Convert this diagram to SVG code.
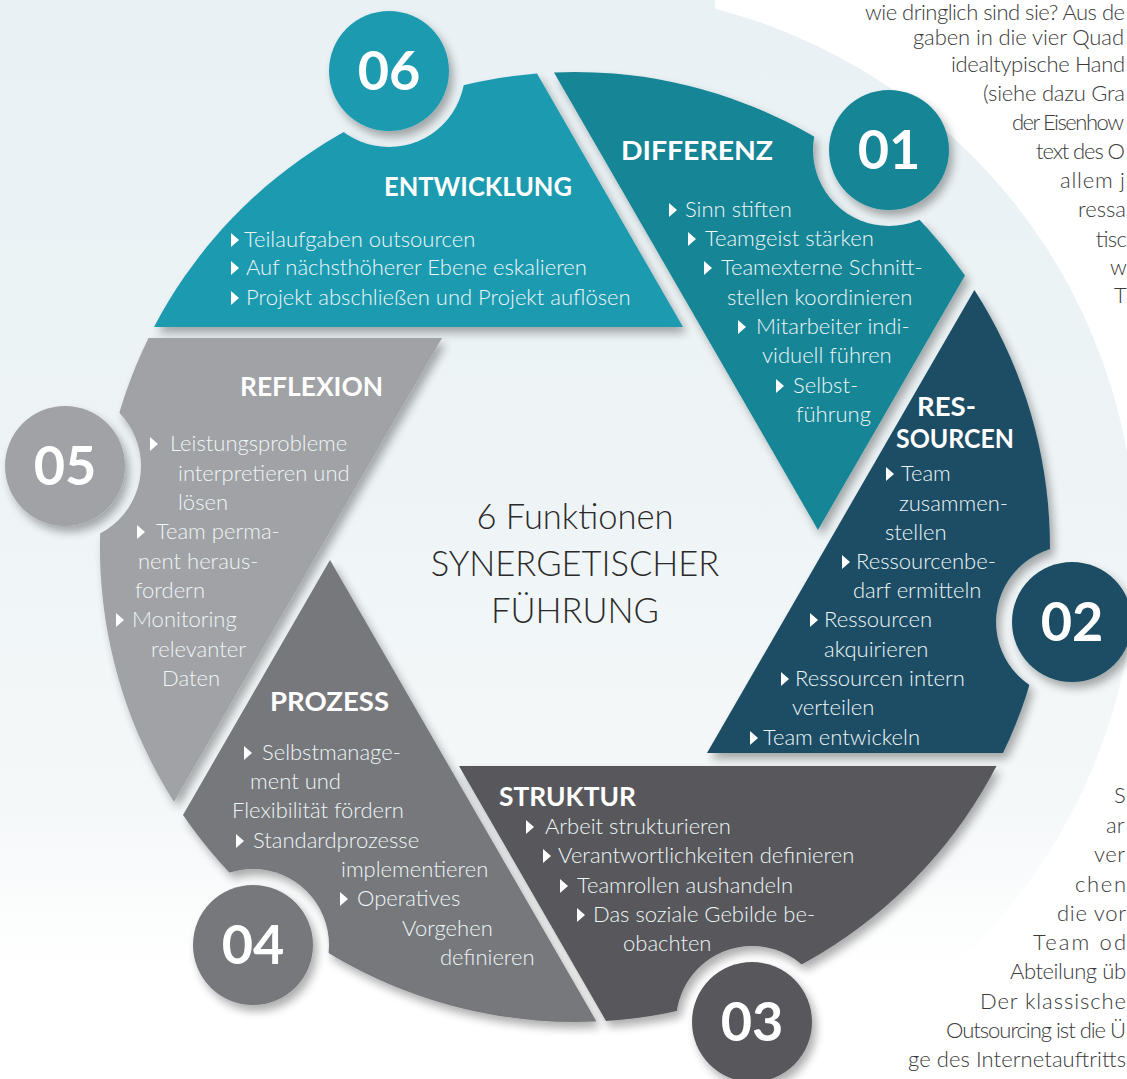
<svg xmlns="http://www.w3.org/2000/svg" xmlns:xlink="http://www.w3.org/1999/xlink" width="1127" height="1079" viewBox="0 0 1127 1079">
<style>
.t{font-family:Lato,"Open Sans","Liberation Sans",sans-serif;font-weight:300;font-size:22px;fill:#eef6f7}
.h{font-family:Lato,"Open Sans","Liberation Sans",sans-serif;font-weight:700;font-size:27px;fill:#ffffff}
.n{font-family:Lato,"Open Sans","Liberation Sans",sans-serif;font-weight:700;font-size:54px;fill:#ffffff;text-anchor:middle}
.c{font-family:Lato,"Open Sans","Liberation Sans",sans-serif;font-weight:300;font-size:34.5px;fill:#2a2a2a;text-anchor:middle}
.p{font-family:Lato,"Open Sans","Liberation Sans",sans-serif;font-weight:300;font-size:22px;fill:#3a3a3a}
.bl{fill:#ffffff}
</style>
<defs>
<linearGradient id="bg" x1="0" y1="0" x2="0" y2="1079" gradientUnits="userSpaceOnUse">
<stop offset="0" stop-color="#e9f1f4"/>
<stop offset="0.45" stop-color="#eef4f6"/>
<stop offset="0.75" stop-color="#f5f8f9"/>
<stop offset="0.9" stop-color="#ffffff"/>
</linearGradient>
<filter id="sh" x="-20%" y="-20%" width="140%" height="140%">
<feGaussianBlur in="SourceAlpha" stdDeviation="5"/>
<feOffset dx="4" dy="6"/>
<feComponentTransfer><feFuncA type="linear" slope="0.33"/></feComponentTransfer>
<feMerge><feMergeNode/><feMergeNode in="SourceGraphic"/></feMerge>
</filter>
<mask id="notch" maskUnits="userSpaceOnUse" x="0" y="0" width="1127" height="1079">
<rect x="0" y="0" width="1127" height="1079" fill="#fff"/>
<circle cx="389" cy="71" r="76" fill="#000"/>
<circle cx="889" cy="150" r="76" fill="#000"/>
<circle cx="1072" cy="622" r="76" fill="#000"/>
<circle cx="752" cy="1022" r="76" fill="#000"/>
<circle cx="253" cy="945" r="76" fill="#000"/>
<circle cx="65" cy="466" r="76" fill="#000"/>
</mask>
<path id="b" d="M0,-7L8,0L0,7Z"/>
</defs>

<rect x="0" y="0" width="1127" height="1079" fill="#ffffff"/>
<g id="background" fill="url(#bg)">
<rect x="0" y="0" width="715" height="1079"/>
<circle cx="575" cy="552" r="561"/>
</g>

<g id="page-text">
<text class="p" x="865" y="20" font-size="20" textLength="260">wie dringlich sind sie? Aus de</text>
<text class="p" x="913" y="45" font-size="21" textLength="211">gaben in die vier Quad</text>
<text class="p" x="951" y="72" textLength="174">idealtypische Hand</text>
<text class="p" x="983" y="101" textLength="142">(siehe dazu Gra</text>
<text class="p" x="1012" y="130" textLength="112">der Eisenhow</text>
<text class="p" x="1036" y="159" textLength="89">text des O</text>
<text class="p" x="1060" y="188" textLength="65">allem j</text>
<text class="p" x="1078" y="217" textLength="48">ressa</text>
<text class="p" x="1095" y="247" textLength="31">tisc</text>
<text class="p" x="1110" y="275">w</text>
<text class="p" x="1114" y="303">T</text>
<text class="p" x="1114" y="803">S</text>
<text class="p" x="1106" y="833">ar</text>
<text class="p" x="1094" y="862" textLength="31">ver</text>
<text class="p" x="1075" y="892" textLength="51">chen</text>
<text class="p" x="1057" y="921" textLength="69">die vor</text>
<text class="p" x="1033" y="950" textLength="93">Team od</text>
<text class="p" x="1010" y="979" textLength="116">Abteilung üb</text>
<text class="p" x="980" y="1009" textLength="146">Der klassische</text>
<text class="p" x="946" y="1038" textLength="180">Outsourcing ist die Ü</text>
<text class="p" x="908" y="1067" textLength="218">ge des Internetauftritts</text>
</g>

<g id="center-title">
<text class="c" x="575" y="529">6 Funktionen</text>
<text class="c" x="575" y="576">SYNERGETISCHER</text>
<text class="c" x="575" y="623">FÜHRUNG</text>
</g>

<g id="node-06">
<g filter="url(#sh)"><path mask="url(#notch)" fill="#1e9bb0" d="M154,327 A475,475 0 0,1 537,73.5 L683,327 Z"/></g>
<g filter="url(#sh)"><circle cx="389" cy="71" r="60" fill="#1e9bb0"/></g>
<text class="n" x="389" y="90">06</text>
<text class="h" x="384" y="196" textLength="188" lengthAdjust="spacingAndGlyphs">ENTWICKLUNG</text>
<g class="bl"><use xlink:href="#b" x="231" y="240"/><use xlink:href="#b" x="231" y="268"/><use xlink:href="#b" x="231" y="298"/></g>
<text class="t" x="244" y="247">Teilaufgaben outsourcen</text>
<text class="t" x="246" y="275">Auf nächsthöherer Ebene eskalieren</text>
<text class="t" x="246" y="305">Projekt abschließen und Projekt auflösen</text>
</g>

<g id="node-01">
<g filter="url(#sh)"><path mask="url(#notch)" fill="#188596" d="M554,72.5 A475,475 0 0,1 965,275.6 L818,530 Z"/></g>
<g filter="url(#sh)"><circle cx="889" cy="150" r="60" fill="#188596"/></g>
<text class="n" x="889" y="169">01</text>
<text class="h" x="621" y="160" textLength="152" lengthAdjust="spacingAndGlyphs">DIFFERENZ</text>
<g class="bl"><use xlink:href="#b" x="669" y="210"/><use xlink:href="#b" x="688" y="239"/><use xlink:href="#b" x="704" y="268"/><use xlink:href="#b" x="738" y="327"/><use xlink:href="#b" x="776" y="386"/></g>
<text class="t" x="685" y="217">Sinn stiften</text>
<text class="t" x="705" y="246">Teamgeist stärken</text>
<text class="t" x="721" y="275">Teamexterne Schnitt-</text>
<text class="t" x="727" y="305">stellen koordinieren</text>
<text class="t" x="756" y="334">Mitarbeiter indi-</text>
<text class="t" x="762" y="363">viduell führen</text>
<text class="t" x="793" y="393">Selbst-</text>
<text class="t" x="796" y="422">führung</text>
</g>

<g id="node-02">
<g filter="url(#sh)"><path mask="url(#notch)" fill="#1c4e65" d="M974.4,290 A475,475 0 0,1 1003,753 L707,753 Z"/></g>
<g filter="url(#sh)"><circle cx="1072" cy="622" r="60" fill="#1c4e65"/></g>
<text class="n" x="1072" y="641">02</text>
<text class="h" x="917" y="416" textLength="59" lengthAdjust="spacingAndGlyphs">RES-</text>
<text class="h" x="896" y="448" textLength="118" lengthAdjust="spacingAndGlyphs">SOURCEN</text>
<g class="bl"><use xlink:href="#b" x="886" y="474"/><use xlink:href="#b" x="842" y="562"/><use xlink:href="#b" x="810" y="620"/><use xlink:href="#b" x="781" y="679"/><use xlink:href="#b" x="750" y="738"/></g>
<text class="t" x="901" y="481">Team</text>
<text class="t" x="899" y="511">zusammen-</text>
<text class="t" x="885" y="540">stellen</text>
<text class="t" x="856" y="569">Ressourcenbe-</text>
<text class="t" x="853" y="598">darf ermitteln</text>
<text class="t" x="824" y="627">Ressourcen</text>
<text class="t" x="824" y="657">akquirieren</text>
<text class="t" x="795" y="686">Ressourcen intern</text>
<text class="t" x="792" y="715">verteilen</text>
<text class="t" x="763" y="745">Team entwickeln</text>
</g>

<g id="node-03">
<g filter="url(#sh)"><path mask="url(#notch)" fill="#58595b" d="M459,766 L996.5,766 A475,475 0 0,1 606,1021 Z"/></g>
<g filter="url(#sh)"><circle cx="752" cy="1022" r="60" fill="#58595b"/></g>
<text class="n" x="752" y="1041">03</text>
<text class="h" x="499" y="806" textLength="137" lengthAdjust="spacingAndGlyphs">STRUKTUR</text>
<g class="bl"><use xlink:href="#b" x="526" y="827"/><use xlink:href="#b" x="543" y="856"/><use xlink:href="#b" x="560" y="886"/><use xlink:href="#b" x="577" y="915"/></g>
<text class="t" x="545" y="834">Arbeit strukturieren</text>
<text class="t" x="558" y="863">Verantwortlichkeiten definieren</text>
<text class="t" x="577" y="893">Teamrollen aushandeln</text>
<text class="t" x="593" y="922">Das soziale Gebilde be-</text>
<text class="t" x="623" y="951">obachten</text>
</g>

<g id="node-04">
<g filter="url(#sh)"><path mask="url(#notch)" fill="#77787c" d="M330,560 L596.5,1021.5 A475,475 0 0,1 183,815 Z"/></g>
<g filter="url(#sh)"><circle cx="253" cy="945" r="60" fill="#77787c"/></g>
<text class="n" x="253" y="964">04</text>
<text class="h" x="270" y="711" textLength="119" lengthAdjust="spacingAndGlyphs">PROZESS</text>
<g class="bl"><use xlink:href="#b" x="244" y="753"/><use xlink:href="#b" x="236" y="841"/><use xlink:href="#b" x="340" y="899"/></g>
<text class="t" x="262" y="760">Selbstmanage-</text>
<text class="t" x="250" y="789">ment und</text>
<text class="t" x="232" y="818">Flexibilität fördern</text>
<text class="t" x="253" y="848">Standardprozesse</text>
<text class="t" x="341" y="877">implementieren</text>
<text class="t" x="357" y="906">Operatives</text>
<text class="t" x="402" y="936">Vorgehen</text>
<text class="t" x="440" y="965">definieren</text>
</g>

<g id="node-05">
<g filter="url(#sh)"><path mask="url(#notch)" fill="#a1a2a5" d="M148.5,338 L442,338 L174,802 A475,475 0 0,1 148.5,338 Z"/></g>
<g filter="url(#sh)"><circle cx="65" cy="466" r="60" fill="#a1a2a5"/></g>
<text class="n" x="65" y="485">05</text>
<text class="h" x="240" y="396" textLength="143" lengthAdjust="spacingAndGlyphs">REFLEXION</text>
<g class="bl"><use xlink:href="#b" x="150" y="444"/><use xlink:href="#b" x="137" y="532"/><use xlink:href="#b" x="116" y="620"/></g>
<text class="t" x="170" y="451">Leistungsprobleme</text>
<text class="t" x="178" y="481">interpretieren und</text>
<text class="t" x="178" y="510">lösen</text>
<text class="t" x="156" y="539">Team perma-</text>
<text class="t" x="138" y="569">nent heraus-</text>
<text class="t" x="135" y="598">fordern</text>
<text class="t" x="132" y="627">Monitoring</text>
<text class="t" x="151" y="657">relevanter</text>
<text class="t" x="162" y="686">Daten</text>
</g>

<g id="connectors"/>
</svg>
